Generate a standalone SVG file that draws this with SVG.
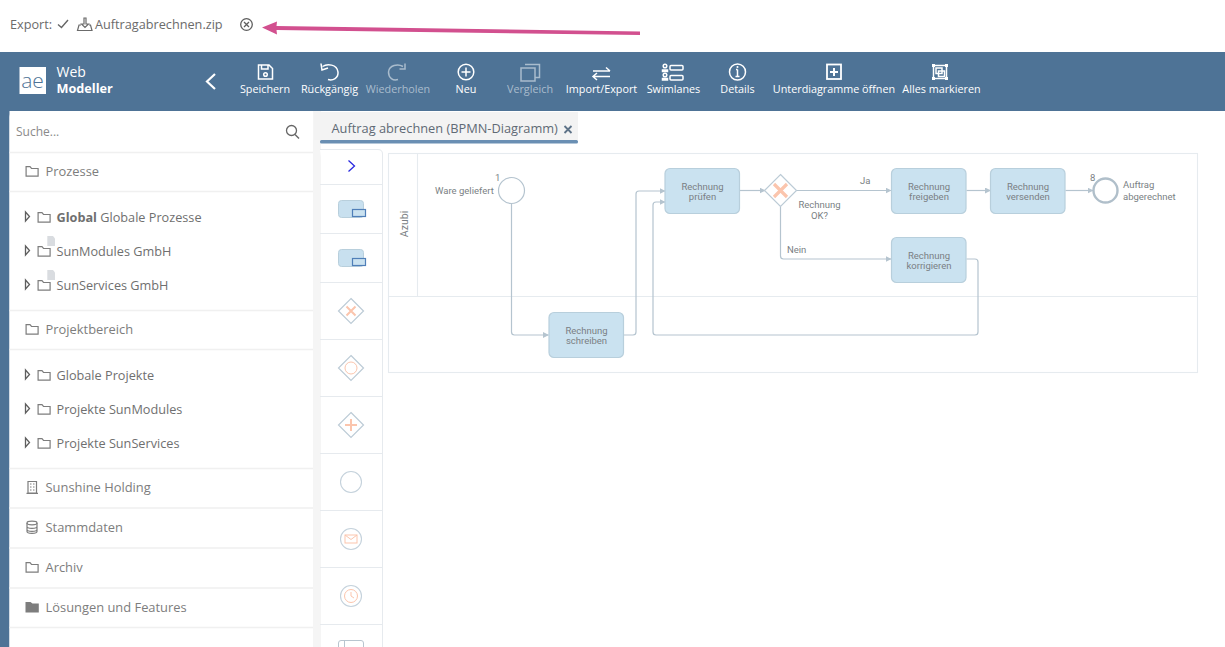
<svg xmlns="http://www.w3.org/2000/svg" width="1225" height="647" viewBox="0 0 1225 647">
<style>
text{font-family:"Open Sans","Liberation Sans",sans-serif}
.top{font-size:12.7px;fill:#6b6b6b}
.tb{font-size:10.8px;fill:#fff;text-anchor:middle}
.tbd{font-size:10.8px;fill:#a9bccd;text-anchor:middle}
.ic{fill:none;stroke:#fff;stroke-width:1.5}
.icd{fill:none;stroke:#a9bccd;stroke-width:1.5}
.side{font-size:12.9px;fill:#7d7d7d}
.tree{font-size:12.7px;fill:#6f6f6f}
.fo{fill:none;stroke:#7d7d7d;stroke-width:1.2}
.sep{stroke:#f0f0f0;stroke-width:1.5}
.tri{fill:none;stroke:#5f5f5f;stroke-width:1.3}
.d{font-family:Roboto,"Liberation Sans",sans-serif;font-size:9.5px;fill:#7a7f84}
.dm{text-anchor:middle}
.task{fill:#cae2f0;stroke:#b8cfdc;stroke-width:1.2}
.conn{fill:none;stroke:#b5c4cf;stroke-width:1.2}
.gw{fill:#fff;stroke:#bccbd6;stroke-width:1.2}
.x{stroke:#fbc5ad;stroke-width:3.2;fill:none}
.x2{stroke:#fbc5ad;stroke-width:1;fill:none}
.pal{stroke:#e6eaee;stroke-width:1}
.circ{fill:#fff;stroke:#c5d2dc;stroke-width:1.1}
.lane{fill:none;stroke:#e6ebef;stroke-width:1.1}
</style>
<defs>
<marker id="ah" viewBox="0 0 6 6" refX="5.5" refY="3" markerWidth="6" markerHeight="6" markerUnits="userSpaceOnUse" orient="auto"><path d="M0 0L6 3L0 6Z" fill="#b5c4cf"/></marker>
<path id="folder" d="M0.6 1.2H4.5L6 3H12.6V10.6H0.6Z"/>
<path id="tr" d="M0 0L4 4.500L0 9Z"/>
</defs>
<rect width="1225" height="647" fill="#fff"/>
<g id="exportbar">
<text x="10" y="29" class="top">Export:</text>
<path d="M58 24.500L61.500 27.500L68 20" fill="none" stroke="#666" stroke-width="1.400"/>
<path d="M84 18H86V24H88.500L85 27.500L81.500 24H84ZM81 25H79L77.500 30.500H92L90.500 25H89" fill="none" stroke="#6b6b6b" stroke-width="1.200"/>
<text x="95" y="29" class="top">Auftragabrechnen.zip</text>
<circle cx="246.500" cy="24.500" r="5.800" fill="none" stroke="#5f5f5f" stroke-width="1.300"/>
<path d="M244 22L249 27M249 22L244 27" stroke="#5f5f5f" stroke-width="1.300"/>
</g>
<g id="pink-arrow"><path d="M262 27.500L277 21.500L276.500 26L640 31.500V35L276.500 30L277 34.500Z" fill="#d2508f"/></g>
<g id="toolbar">
<rect y="52" width="1225" height="59" fill="#4e7396"/>
<rect y="111" width="9.500" height="536" fill="#4e7396"/>
<rect x="19.500" y="67" width="26.500" height="27" fill="#fff"/>
<text x="32.500" y="88" font-size="21" fill="#4e7396" text-anchor="middle" font-weight="300">ae</text>
<text x="56.500" y="77" font-size="14" fill="#fff">Web</text>
<text x="56.500" y="93" font-size="12.700" font-weight="700" fill="#fff">Modeller</text>
<path d="M215 74L207 81.500L215 89" fill="none" stroke="#fff" stroke-width="2.200"/>
<g id="btn-save"><path class="ic" d="M258.500 65H269L272.500 68.500V79H258.500Z M261.500 65V69H268V65"/><circle class="ic" cx="265.500" cy="74.500" r="1.800"/><text x="265" y="93" class="tb">Speichern</text></g>
<g id="btn-undo"><path class="ic" d="M322.500 66.500C327 63.500 337 64 338 72C338.500 78 333 81 328 79.500"/><path class="ic" d="M321 63.500L322 70L328 68"/><text x="329.500" y="93" class="tb">Rückgängig</text></g>
<g id="btn-redo"><path class="icd" d="M403 66.500C398 63.500 389 65 388.500 72C388.500 78 393 81 398 79.500"/><path class="icd" d="M405 63.500V69H399.500"/><text x="398" y="93" class="tbd">Wiederholen</text></g>
<g id="btn-new"><circle class="ic" cx="466" cy="72" r="7.800"/><path class="ic" d="M466 67.500V76.500M461.500 72H470.500"/><text x="466" y="93" class="tb">Neu</text></g>
<g id="btn-compare"><path class="icd" d="M525 64.500H539.500V77.500H535M521 68H535V81H521Z"/><text x="530" y="93" class="tbd">Vergleich</text></g>
<g id="btn-import"><path class="ic" d="M593 71H610M593 76.500H610M606 67.500L610 71M597 73L593 76.500L597 80"/><text x="601.500" y="93" class="tb">Import/Export</text></g>
<g id="btn-swim"><circle class="ic" cx="665" cy="66" r="1.800"/><path class="ic" d="M662.500 71.500V70H667.500V71.500Z"/><rect class="ic" x="670" y="65.500" width="13" height="4.500" rx="1"/><circle class="ic" cx="665" cy="75" r="1.800"/><path class="ic" d="M662.500 80V78.500H667.500V80Z"/><rect class="ic" x="670" y="75.500" width="13" height="4.500" rx="1"/><text x="673.500" y="93" class="tb">Swimlanes</text></g>
<g id="btn-details"><circle class="ic" cx="737.500" cy="72" r="8"/><path d="M737.500 69.500V76.500M735.500 76.500H739.500M736 69.500H737.500" fill="none" stroke="#fff" stroke-width="1.500"/><circle cx="737.500" cy="67" r="1" fill="#fff"/><text x="737.500" y="93" class="tb">Details</text></g>
<g id="btn-sub"><rect x="827" y="64.500" width="14" height="14.500" fill="none" stroke="#fff" stroke-width="1.800"/><path d="M830 72H838M834 68V76" stroke="#fff" stroke-width="2"/><text x="834" y="93" class="tb">Unterdiagramme öffnen</text></g>
<g id="btn-all"><rect class="ic" x="933.500" y="65.500" width="13" height="13" stroke-width="1.200"/><rect class="ic" x="936" y="68" width="6" height="5.500" stroke-width="1.100"/><rect class="ic" x="938.500" y="71" width="6" height="5.500" stroke-width="1.100"/><g fill="#fff"><rect x="932" y="64" width="3" height="3"/><rect x="945" y="64" width="3" height="3"/><rect x="932" y="77" width="3" height="3"/><rect x="945" y="77" width="3" height="3"/></g><text x="941.500" y="93" class="tb">Alles markieren</text></g>
</g>
<g id="sidebar">
<rect x="313" y="111" width="8" height="536" fill="#f5f5f5"/>
<path d="M9.500 647V117Q9.500 111 15.500 111H313V647Z" fill="#fff"/>
<text x="16" y="136" font-size="12" fill="#8a8a8a">Suche...</text>
<circle cx="291.500" cy="130.500" r="5" fill="none" stroke="#666" stroke-width="1.300"/>
<path d="M295 134.500L299 138.500" stroke="#666" stroke-width="1.500"/>
<path class="sep" d="M9.500 152.500H313M9.500 191.500H313M9.500 310.500H313M9.500 349.500H313M9.500 468.500H313"/>
<path d="M9.500 508H313M9.500 548H313M9.500 588H313" stroke="#f3f3f3" stroke-width="2"/>
<path class="sep" d="M9.500 627.500H313"/>
<g id="nav-prozesse"><use href="#folder" class="fo" x="25.500" y="165.500"/><text x="45.500" y="176" class="side">Prozesse</text></g>
<g id="nav-global"><use href="#tr" class="tri" x="25.500" y="212"/><use href="#folder" class="fo" x="37.500" y="211.500"/><text x="56.500" y="222" class="tree"><tspan font-weight="700">Global</tspan> Globale Prozesse</text></g>
<g id="nav-sunmodules"><use href="#tr" class="tri" x="25.500" y="246"/><path d="M47.300 236H53L55 238.500V246H47.300Z" fill="#d9dce0"/><use href="#folder" class="fo" x="37.500" y="245.500"/><text x="56.500" y="256" class="tree">SunModules GmbH</text></g>
<g id="nav-sunservices"><use href="#tr" class="tri" x="25.500" y="280"/><path d="M47.300 270H53L55 272.500V280H47.300Z" fill="#d9dce0"/><use href="#folder" class="fo" x="37.500" y="279.500"/><text x="56.500" y="290" class="tree">SunServices GmbH</text></g>
<g id="nav-projektbereich"><use href="#folder" class="fo" x="25.500" y="323.500"/><text x="45.500" y="334" class="side">Projektbereich</text></g>
<g id="nav-gp"><use href="#tr" class="tri" x="25.500" y="370"/><use href="#folder" class="fo" x="37.500" y="369.500"/><text x="56.500" y="380" class="tree">Globale Projekte</text></g>
<g id="nav-psm"><use href="#tr" class="tri" x="25.500" y="404"/><use href="#folder" class="fo" x="37.500" y="403.500"/><text x="56.500" y="414" class="tree">Projekte SunModules</text></g>
<g id="nav-pss"><use href="#tr" class="tri" x="25.500" y="438"/><use href="#folder" class="fo" x="37.500" y="437.500"/><text x="56.500" y="448" class="tree">Projekte SunServices</text></g>
<g id="nav-holding"><path class="fo" d="M28 481.500H36.500V493H28ZM26.500 493.300H38"/><path d="M30 484H31.500M33 484H34.500M30 487H31.500M33 487H34.500M30 490H31.500M33 490H34.500" stroke="#7d7d7d"/><text x="45.500" y="492" class="side">Sunshine Holding</text></g>
<g id="nav-stamm"><ellipse class="fo" cx="32" cy="523" rx="5" ry="1.800"/><path class="fo" d="M27 523V531.500C27 534 37 534 37 531.500V523M27 526.500C27 529 37 529 37 526.500M27 529.500C27 532 37 532 37 529.500"/><text x="45.500" y="532" class="side">Stammdaten</text></g>
<g id="nav-archiv"><use href="#folder" class="fo" x="25.500" y="561.500"/><text x="45.500" y="572" class="side">Archiv</text></g>
<g id="nav-loes"><path d="M25.500 602H30.500L32.500 603.500H38.800V612.500H25.500Z" fill="#7d7d7d"/><text x="45.500" y="612" class="side">Lösungen und Features</text></g>
</g>
<g id="tab">
<rect x="314" y="112" width="264" height="28" fill="#f3f3f3"/>
<rect x="320" y="140" width="258" height="3.500" rx="1.500" fill="#6a8fb3"/>
<text x="331.500" y="133" font-size="12.800" fill="#5f6a75">Auftrag abrechnen (BPMN-Diagramm)</text>
<path d="M564.500 126L571.500 133M571.500 126L564.500 133" stroke="#5e7388" stroke-width="1.800"/>
</g>
<g id="palette">
<path d="M320 149.500H378Q382.500 149.500 382.500 154V647" fill="#fff" stroke="#e6eaee"/>
<path class="pal" d="M320 184.500H382M320 233.500H382M320 282.500H382M320 339.500H382M320 396.500H382M320 453.500H382M320 510.500H382M320 567.500H382M320 624.500H382"/>
<path d="M348.500 160.500L354.500 166L348.500 171.500" fill="none" stroke="#2a2ae0" stroke-width="1.300"/>
<g id="pal-task1"><rect x="338.500" y="200.500" width="25" height="17" rx="3" fill="#c8e0ef" stroke="#b8cfdc"/><rect x="352.500" y="209.500" width="13" height="7" fill="#cae2f0" stroke="#4f7fb8" stroke-width="1.200"/></g>
<g id="pal-task2"><rect x="338.500" y="249.500" width="25" height="17" rx="3" fill="#c8e0ef" stroke="#b8cfdc"/><rect x="352.500" y="258.500" width="13" height="7" fill="#cae2f0" stroke="#4f7fb8" stroke-width="1.200"/></g>
<g id="pal-xor"><path class="gw" d="M351 298.500L363.500 311L351 323.500L338.500 311Z"/><path d="M346.500 306.500L355.500 315.500M355.500 306.500L346.500 315.500" class="x" style="stroke-width:2"/></g>
<g id="pal-or"><path class="gw" d="M351 355.500L363.500 368L351 380.500L338.500 368Z"/><circle cx="351" cy="368" r="6" class="x2"/></g>
<g id="pal-and"><path class="gw" d="M351 412.500L363.500 425L351 437.500L338.500 425Z"/><path d="M351 419V431M345 425H357" class="x" style="stroke-width:2"/></g>
<g id="pal-start"><circle class="circ" cx="351" cy="482" r="10.500"/></g>
<g id="pal-msg"><circle class="circ" cx="351" cy="539" r="10.500"/><rect x="345" y="535" width="12" height="8" class="x2"/><path d="M345 535L351 539.500L357 535" class="x2"/></g>
<g id="pal-timer"><circle class="circ" cx="351" cy="596" r="10.500"/><circle cx="351" cy="596" r="6.500" class="x2"/><path d="M351 592V596L354 598" class="x2"/></g>
<g id="pal-lane"><path d="M338.500 647V643Q338.500 640.500 341 640.500H361Q363.500 640.500 363.500 643V647M344.500 640.500V647" fill="none" stroke="#b8c5cf"/></g>
</g>
<g id="pool">
<rect class="lane" x="388.500" y="153.500" width="809" height="219"/>
<path class="lane" d="M388.500 296.500H1197.500M417.500 153.500V296.500"/>
<text class="d dm" style="font-size:10.500px" transform="translate(407.500,224) rotate(-90)">Azubi</text>
</g>
<g id="connectors">
<path class="conn" marker-end="url(#ah)" d="M511.500 203.500V332Q511.500 335 514.500 335H548.500"/>
<path class="conn" marker-end="url(#ah)" d="M624 335H633Q636 335 636 332V194Q636 191 639 191H665"/>
<path class="conn" marker-end="url(#ah)" d="M978 262V332Q978 335 975 335H656Q653 335 653 332V205Q653 202 656 202H665"/>
<path class="conn" marker-end="url(#ah)" d="M740 190.500H765"/>
<path class="conn" marker-end="url(#ah)" d="M796.500 190.500H891"/>
<path class="conn" marker-end="url(#ah)" d="M780.500 206.500V256Q780.500 259 783.500 259H891"/>
<path class="conn" d="M966.500 259H975Q978 259 978 262"/>
<path class="conn" marker-end="url(#ah)" d="M966.500 190.500H990.500"/>
<path class="conn" marker-end="url(#ah)" d="M1065.500 190.500H1093"/>
<text class="d" x="860" y="184">Ja</text>
<text class="d" x="787" y="253">Nein</text>
</g>
<g id="start-event"><circle cx="511.500" cy="190.500" r="13" fill="#fff" stroke="#b5c4cf" stroke-width="1.200"/><text class="d" x="495" y="181">1</text><text class="d" x="435" y="194">Ware geliefert</text></g>
<g id="task-schreiben"><rect class="task" x="549" y="312.500" width="74.500" height="45" rx="5"/><text class="d dm" x="586.500" y="334">Rechnung</text><text class="d dm" x="586.500" y="344">schreiben</text></g>
<g id="task-pruefen"><rect class="task" x="665" y="168.500" width="74.500" height="45" rx="5"/><text class="d dm" x="702.500" y="190">Rechnung</text><text class="d dm" x="702.500" y="200">prüfen</text></g>
<g id="gateway"><path class="gw" d="M780.500 174.500L796.500 190.500L780.500 206.500L764.500 190.500Z"/><path class="x" d="M774 184L787 197M787 184L774 197"/><text class="d dm" x="819.500" y="208">Rechnung</text><text class="d dm" x="819.500" y="219">OK?</text></g>
<g id="task-freigeben"><rect class="task" x="891.500" y="168.500" width="74.500" height="45" rx="5"/><text class="d dm" x="929" y="190">Rechnung</text><text class="d dm" x="929" y="200">freigeben</text></g>
<g id="task-versenden"><rect class="task" x="990.500" y="168.500" width="74.500" height="45" rx="5"/><text class="d dm" x="1028" y="190">Rechnung</text><text class="d dm" x="1028" y="200">versenden</text></g>
<g id="task-korrigieren"><rect class="task" x="891.500" y="237.500" width="74.500" height="45" rx="5"/><text class="d dm" x="929" y="259">Rechnung</text><text class="d dm" x="929" y="269">korrigieren</text></g>
<g id="end-event"><circle cx="1105.500" cy="190.500" r="12" fill="#fff" stroke="#b0bfca" stroke-width="2.400"/><text class="d" x="1090" y="181">8</text><text class="d" x="1123" y="188">Auftrag</text><text class="d" x="1123" y="200">abgerechnet</text></g>
</svg>
